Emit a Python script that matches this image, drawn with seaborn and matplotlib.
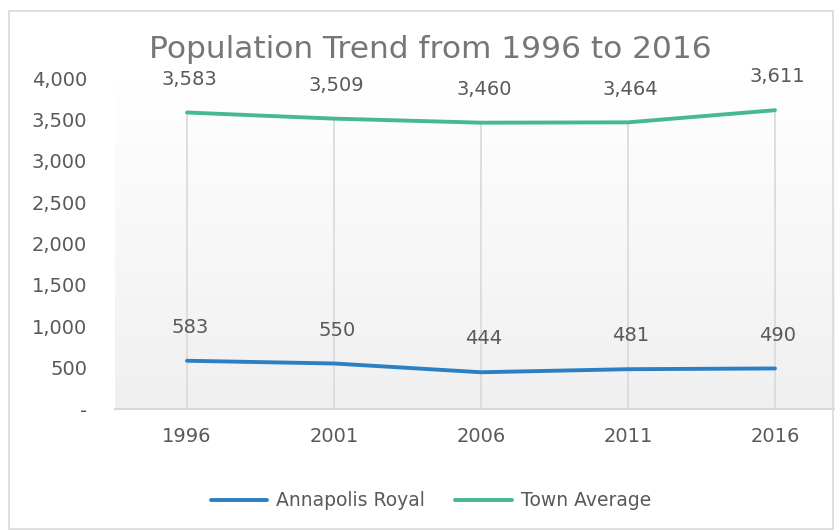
import numpy as np
import pandas as pd
import matplotlib
matplotlib.use('Agg')
import matplotlib.pyplot as plt
import seaborn as sns
from matplotlib.patches import Rectangle

# chart values
years = [1996, 2001, 2006, 2011, 2016]
annapolis_royal = [583, 550, 444, 481, 490]
town_average = [3583, 3509, 3460, 3464, 3611]
series_names = ['Annapolis Royal', 'Town Average']
y_ticks = [0, 500, 1000, 1500, 2000, 2500, 3000, 3500, 4000]

df = pd.DataFrame({
    'Year': years * 2,
    'Population': annapolis_royal + town_average,
    'Series': [series_names[0]] * len(years) + [series_names[1]] * len(years),
})

sns.set_style('white')
plt.rcParams['font.family'] = ['DejaVu Sans']
text_col = '#595959'
colors = {'Annapolis Royal': '#2b80c5', 'Town Average': '#46b896'}

fig = plt.figure(figsize=(8.35, 5.31), dpi=100)
ax = fig.add_axes([115 / 835, 1 - 409 / 531, 1 - 115 / 835, (409 - 78) / 531])

# soft gradient background like the original
grad = np.linspace(1.0, 0.94, 256).reshape(-1, 1)
ax.imshow(np.dstack([grad, grad, grad]), extent=[0, 1, 0, 1], transform=ax.transAxes,
          aspect='auto', zorder=0, interpolation='bilinear')

# drop lines from the highest point down to the axis
ax.vlines(years, 0, np.maximum(annapolis_royal, town_average), color='#d9d9d9', lw=1.2, zorder=1)

sns.lineplot(data=df, x='Year', y='Population', hue='Series', palette=colors,
             linewidth=2.8, ax=ax, legend=True, zorder=3)

for s in series_names:
    sub = df[df['Series'] == s]
    for x, y in zip(sub['Year'], sub['Population']):
        ax.annotate(f'{y:,}', (x, y), xytext=(2, 24), textcoords='offset points',
                    ha='center', va='center', fontsize=14, color=text_col)

ax.set_xlim(1996 - 72 / 147 * 5, 2016 + 60 / 147 * 5)
ax.set_ylim(0, 4000)
ax.set_xticks(years)
ax.set_xticklabels([str(y) for y in years])
ax.set_yticks(y_ticks)
ax.set_yticklabels(['-' if v == 0 else f'{v:,}' for v in y_ticks])
ax.tick_params(axis='y', length=0, pad=20, labelsize=14, labelcolor=text_col)
ax.tick_params(axis='x', length=0, pad=13, labelsize=14, labelcolor=text_col)
ax.set_xlabel('')
ax.set_ylabel('')
for side in ['top', 'right', 'left']:
    ax.spines[side].set_visible(False)
ax.spines['bottom'].set_color('#d9d9d9')
ax.spines['bottom'].set_linewidth(1.5)
ax.spines['bottom'].set_zorder(2)

handles, labels = ax.get_legend_handles_labels()
ax.get_legend().remove()
fig.legend(handles, labels, loc='center', bbox_to_anchor=(431 / 835, 1 - 501 / 531), ncol=2,
           frameon=False, fontsize=13.5, labelcolor=text_col, handlelength=3.0,
           columnspacing=1.6, handletextpad=0.5)

fig.text(430 / 835, 1 - 50 / 531, 'Population Trend from 1996 to 2016', ha='center', va='center',
         fontsize=22.5, color='#767676')

fig.patches.append(Rectangle((9 / 835, 1 - 529 / 531), 824 / 835, 518 / 531, transform=fig.transFigure,
                             fill=False, edgecolor='#d9d9d9', lw=1.2))

fig.savefig('out.png', dpi=100)
